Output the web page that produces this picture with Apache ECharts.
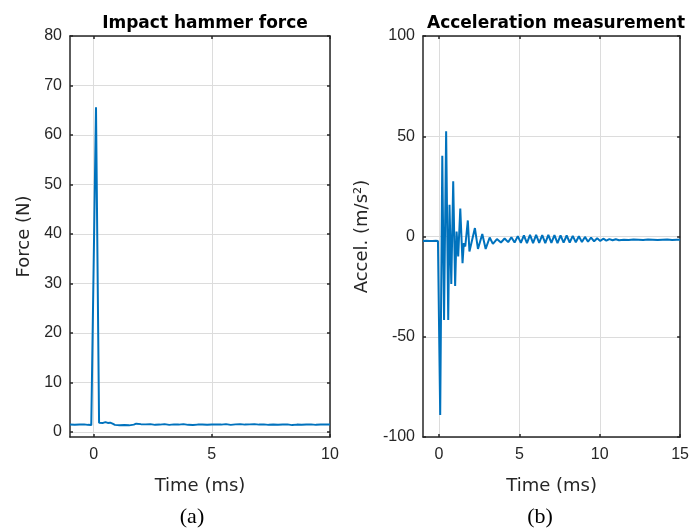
<!DOCTYPE html>
<html>
<head>
<meta charset="utf-8">
<script src="https://cdn.jsdelivr.net/npm/echarts@6/dist/echarts.min.js"></script>
<style>
html,body{margin:0;padding:0;background:#fff;}
#chart{width:692px;height:530px;}
</style>
</head>
<body>
<div id="chart"></div>
<script>
// ---- Data ----
var forceTime = [-1,-0.8,-0.6,-0.4,-0.25,-0.1,-0.05,0.1,0.23,0.3,0.4,0.5,0.6,0.7,0.8,0.9,1.1,1.3,1.5,1.7,1.8,2.0,2.2,2.4,2.6,2.8,3.0,3.2,3.4,3.6,3.8,4.0,4.2,4.4,4.6,4.8,5.0,5.2,5.4,5.6,5.8,6.0,6.2,6.4,6.6,6.8,7.0,7.2,7.4,7.6,7.8,8.0,8.2,8.4,8.6,8.8,9.0,9.2,9.4,9.6,9.8,10];
var forceValue = [1.5,1.45,1.5,1.55,1.45,1.4,1.6,65.6,1.9,1.95,1.85,2.0,1.85,1.9,1.7,1.45,1.35,1.4,1.35,1.5,1.7,1.6,1.55,1.6,1.45,1.5,1.6,1.45,1.55,1.5,1.6,1.45,1.4,1.5,1.5,1.45,1.5,1.55,1.5,1.6,1.45,1.55,1.6,1.5,1.55,1.6,1.5,1.55,1.45,1.5,1.45,1.5,1.55,1.4,1.5,1.45,1.5,1.55,1.45,1.5,1.55,1.5];

var accelTime = [-1,-0.8,-0.6,-0.4,-0.2,-0.07,0.07,0.2,0.31,0.44,0.57,0.65,0.76,0.88,1.0,1.09,1.19,1.32,1.46,1.54,1.63,1.79,1.89,2.23,2.42,2.69,2.9,3.15,3.35,3.6,3.85,4.08,4.3,4.5,4.7,4.9,5.09,5.28,5.47,5.66,5.85,6.04,6.23,6.42,6.61,6.8,6.99,7.18,7.37,7.56,7.75,7.94,8.13,8.32,8.51,8.7,8.89,9.08,9.27,9.46,9.65,9.84,10.03,10.22,10.41,10.6,10.8,11.0,11.2,11.5,11.8,12.1,12.4,12.7,13.0,13.3,13.6,13.9,14.2,14.5,14.8,15];
var accelValue = [-2.2,-2.1,-2.3,-2.2,-2.1,-2.2,-89,40.3,-41.7,52.5,-41.7,15.8,-23.7,27.5,-24.7,2.5,-10,14,-13.3,-3.3,-5,8,-7.5,4.2,-6.2,1.2,-6.2,-0.5,-3.7,-1.3,-3.0,-1.0,-2.8,-0.4,-3.0,0.2,-3.2,0.6,-3.3,0.8,-3.3,0.8,-3.2,0.7,-3.3,0.8,-3.2,0.7,-3.3,0.6,-3.1,0.5,-3.0,0.3,-2.9,0.1,-2.7,-0.2,-2.6,-0.5,-2.4,-0.9,-2.2,-1.1,-2.1,-1.3,-1.9,-1.4,-1.9,-1.6,-1.7,-1.5,-1.6,-1.7,-1.5,-1.6,-1.8,-1.6,-1.5,-1.7,-1.6,-1.6];

var forceXTicks = [0,5,10];
var forceYTicks = [0,10,20,30,40,50,60,70,80];
var accelXTicks = [0,5,10,15];
var accelYTicks = [-100,-50,0,50,100];

var titles = ['Impact hammer force', 'Acceleration measurement'];
var xNames = ['Time (ms)', 'Time (ms)'];
var yNames = ['Force (N)', 'Accel. (m/s\u00b2)'];
var panelLabels = ['(a)', '(b)'];

// ---- Styling ----
var FONT = 'DejaVu Sans';
var TICKFONT = 'Liberation Sans';
var AX = '#262626';
var GRIDC = '#dcdcdc';
var LINEC = '#0072BD';

function zip(a, b) { return a.map(function (v, i) { return [v, b[i]]; }); }

function mainX(gi, min, max, ticks, name) {
  return {
    type: 'value', gridIndex: gi, min: min, max: max, position: 'bottom',
    name: name, nameLocation: 'middle', nameGap: 40,
    nameTextStyle: { fontFamily: FONT, fontSize: 18, color: AX },
    axisLine: { show: true, onZero: false, lineStyle: { color: AX, width: 1.5 } },
    axisTick: { show: true, inside: true, length: 3, customValues: ticks, lineStyle: { color: AX, width: 1.5 } },
    axisLabel: { customValues: ticks, margin: 10, fontFamily: TICKFONT, fontSize: 16, color: AX },
    splitLine: { show: true, lineStyle: { color: GRIDC, width: 1 } }
  };
}
function boxX(gi, min, max, ticks) {
  return {
    type: 'value', gridIndex: gi, min: min, max: max, position: 'top',
    axisLine: { show: true, onZero: false, lineStyle: { color: AX, width: 1.5 } },
    axisTick: { show: true, inside: true, length: 3, customValues: ticks, lineStyle: { color: AX, width: 1.5 } },
    axisLabel: { show: false }, splitLine: { show: false }
  };
}
function mainY(gi, min, max, ticks, name, gap) {
  return {
    type: 'value', gridIndex: gi, min: min, max: max, position: 'left',
    name: name, nameLocation: 'middle', nameGap: gap,
    nameTextStyle: { fontFamily: FONT, fontSize: 18, color: AX },
    axisLine: { show: true, onZero: false, lineStyle: { color: AX, width: 1.5 } },
    axisTick: { show: true, inside: true, length: 3, customValues: ticks, lineStyle: { color: AX, width: 1.5 } },
    axisLabel: { customValues: ticks, margin: 8, fontFamily: TICKFONT, fontSize: 16, color: AX },
    splitLine: { show: true, lineStyle: { color: GRIDC, width: 1 } }
  };
}
function boxY(gi, min, max, ticks) {
  return {
    type: 'value', gridIndex: gi, min: min, max: max, position: 'right',
    axisLine: { show: true, onZero: false, lineStyle: { color: AX, width: 1.5 } },
    axisTick: { show: true, inside: true, length: 3, customValues: ticks, lineStyle: { color: AX, width: 1.5 } },
    axisLabel: { show: false }, splitLine: { show: false }
  };
}

var chart = echarts.init(document.getElementById('chart'), null, { renderer: 'canvas' });
chart.setOption({
  backgroundColor: '#ffffff',
  animation: false,
  title: [
    { text: titles[0], left: 200, top: 10, textAlign: 'center',
      textStyle: { fontFamily: FONT, fontSize: 17, fontWeight: 'bold', color: '#000' } },
    { text: titles[1], left: 551, top: 10, textAlign: 'center',
      textStyle: { fontFamily: FONT, fontSize: 17, fontWeight: 'bold', color: '#000' } }
  ],
  grid: [
    { left: 70, right: 362, top: 36, bottom: 93, containLabel: false },
    { left: 423, right: 11, top: 36, bottom: 93, containLabel: false }
  ],
  xAxis: [
    mainX(0, -1, 10, forceXTicks, xNames[0]),
    mainX(1, -1, 15, accelXTicks, xNames[1]),
    boxX(0, -1, 10, forceXTicks),
    boxX(1, -1, 15, accelXTicks)
  ],
  yAxis: [
    mainY(0, -1, 80, forceYTicks, yNames[0], 37),
    mainY(1, -100, 100, accelYTicks, yNames[1], 52),
    boxY(0, -1, 80, forceYTicks),
    boxY(1, -100, 100, accelYTicks)
  ],
  series: [
    { type: 'line', xAxisIndex: 0, yAxisIndex: 0, data: zip(forceTime, forceValue),
      showSymbol: false, lineStyle: { color: LINEC, width: 2 }, itemStyle: { color: LINEC } },
    { type: 'line', xAxisIndex: 1, yAxisIndex: 1, data: zip(accelTime, accelValue),
      showSymbol: false, lineStyle: { color: LINEC, width: 2 }, itemStyle: { color: LINEC } }
  ],
  graphic: [
    { type: 'text', x: 192, y: 517, style: { text: panelLabels[0], font: '22px "Liberation Serif"', fill: '#000', align: 'center', verticalAlign: 'middle' } },
    { type: 'text', x: 540, y: 517, style: { text: panelLabels[1], font: '22px "Liberation Serif"', fill: '#000', align: 'center', verticalAlign: 'middle' } }
  ]
});
</script>
</body>
</html>
